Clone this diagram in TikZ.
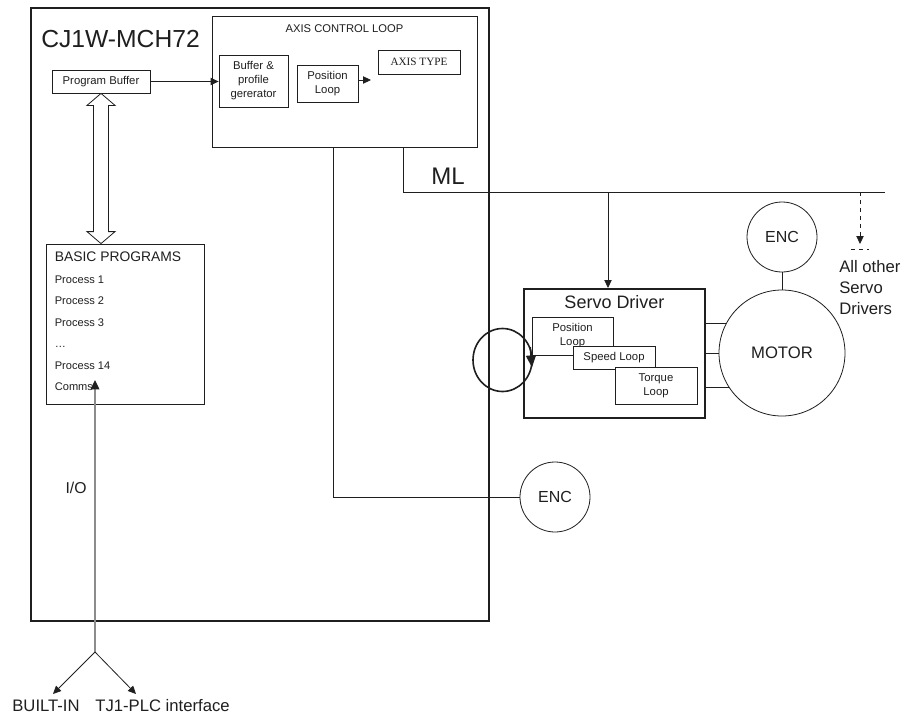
\documentclass[tikz,border=0pt]{standalone}
\usepackage{fontspec}
\setmainfont{Liberation Sans}
\newfontfamily\serifface{Liberation Serif}
\usetikzlibrary{arrows.meta}
\usetikzlibrary{positioning}
\usetikzlibrary{calc}
\usetikzlibrary{shapes.geometric}
\definecolor{ink}{gray}{0.12}
\definecolor{iogray}{gray}{0.55}
\tikzset{
sz/.style 2 args = {minimum width=#1*0.75pt, minimum height=#2*0.75pt},
blk/.style = {draw=ink, fill=white, inner sep=0pt, align=center,
              font=\fontsize{8.5}{10.5}\selectfont, text=ink, line width=0.6pt},
thickblk/.style = {draw=ink, line width=1.5pt, inner sep=0pt},
wheel/.style = {circle, draw=ink, fill=white, inner sep=0pt, line width=0.6pt,
                minimum size=#1*1.5pt, text=ink},
wheel/.default = 35, % radius in px
lbl/.style = {inner sep=0pt, text=ink},
tip/.style = {-{Triangle[length=6pt,width=5.5pt]}},
wire/.style = {draw=ink, line width=0.6pt}
}

\begin{document}
\begin{tikzpicture}[x=0.75pt, y=-0.75pt]
    \useasboundingbox (0,0) rectangle (909,717);

    \node[thickblk, sz={458}{613}] (mch) at (260,314.5) {};
    \node[lbl, font=\fontsize{18.5}{20}\selectfont, below right=17pt and 8.25pt of mch.north west] (mchname) {CJ1W-MCH72};

    \node[blk, sz={265}{131}] (acl) at (344.5,81.5) {};
    \node[lbl, font=\fontsize{8.4}{10}\selectfont, below=6.5pt of acl.north] (acltitle) {AXIS CONTROL LOOP};
    \node[blk, sz={69}{52}] (bpg) at (253.5,81) {Buffer \&\\profile\\gererator};
    \node[blk, sz={61}{37}] (ploop) at (327.5,83.5) {Position\\Loop};
    \node[blk, sz={82}{24}, font=\serifface\fontsize{8.4}{10}\selectfont] (atype) at (419,62) {AXIS TYPE};
    \coordinate (ptip) at (371,80);
    \draw[wire, tip] (ploop.east |- ptip) -- (ptip);

    \node[blk, sz={98}{23}] (pbuf) at (101,81.5) {Program Buffer};
    \draw[wire, tip] (pbuf.east) -- (pbuf.east -| bpg.west);

    \node[blk, sz={158}{160}] (basic) at (125,324) {};
    \node[lbl, font=\fontsize{10.4}{12}\selectfont, anchor=base west] (basictitle) at ($(basic.north west)+(9,18)$) {BASIC PROGRAMS};
    \foreach \t [count=\i] in {Process 1,Process 2,Process 3,…,Process 14,Comms}
        \node[lbl, font=\fontsize{8.3}{10}\selectfont, anchor=base west] (proc\i) at ($(basic.north west)+(9,18.5+21.4*\i)$) {\t};

    \draw[ink, line width=0.6pt, fill=white] (pbuf.south) -- ++(14,12) -- ++(-6.5,0)
        -- ($(pbuf.south |- basic.north)+(7.5,-12)$) -- ++(6.5,0) -- (pbuf.south |- basic.north)
        -- ++(-14,-12) -- ++(6.5,0) -- ($(pbuf.south)+(-7.5,12)$) -- ++(-6.5,0) -- cycle;

    \node[wheel] (enc2) at (555,497) {\fontsize{12}{14}\selectfont ENC};
    \coordinate (encdrop) at (333,147);
    \coordinate (mldrop) at (403,147);
    \coordinate (mlend) at (885,192);
    \draw[wire] (encdrop) |- (enc2.west);
    \draw[wire] (mldrop) |- (mlend);
    \node[lbl, font=\fontsize{18}{20}\selectfont] (mllabel) at (448,176) {ML};

    \node[thickblk, sz={181}{129}] (servo) at (614.5,353.5) {};
    \node[lbl, font=\fontsize{13.5}{15}\selectfont, below=5.5pt of servo.north] (servotitle) {Servo Driver};
    \node[blk, sz={81}{38}] (spos) at (572.5,336) {Position\\Loop};
    \node[blk, sz={82}{23}] (sspeed) at (614,357.5) {Speed Loop};
    \node[blk, sz={82}{37}] (storque) at (656,385.5) {Torque\\Loop};
    \coordinate (mltap) at (608,192);
    \draw[wire, tip] (mltap) -- (mltap |- servo.north);

    \node[draw=ink, line width=1.2pt, ellipse, inner sep=0pt, sz={59}{63}] (fbloop) at (502.5,360) {};
    \draw[ink, line width=1.2pt, -{Triangle[length=9pt,width=7.5pt]}] (fbloop.25) -- (fbloop.-14);

    \node[wheel=63] (motor) at (782,353) {\fontsize{12.5}{14}\selectfont MOTOR};
    \node[wheel] (enc1) at (782,237) {\fontsize{12}{14}\selectfont ENC};
    \draw[wire] (enc1) -- (motor);
    \foreach \a in {152.6,180,213.7}
        \draw[wire] (motor.\a) -- (motor.\a -| servo.east);

    \coordinate (othtap) at (860,192);
    \coordinate (othtip) at (860,244);
    \draw[wire, dashed, tip] (othtap) -- (othtip);
    \draw[wire, dashed] ($(othtip)+(-9,5)$) -- ++(18,0);
    \node[lbl, align=left, anchor=north west, font=\fontsize{12.5}{15.75}\selectfont] (others) at (839,260) {All other\\Servo\\Drivers};

    \coordinate (iofork) at (95,652);
    \coordinate (iotip) at (95,380);
    \draw[iogray, line width=1pt, -{Triangle[length=7pt,width=6.5pt,color=ink]}] (iofork) -- (iotip);
    \node[lbl, font=\fontsize{11.8}{13}\selectfont] (iolabel) at (76,488) {I/O};

    \node[lbl, font=\fontsize{12.5}{14}\selectfont] (builtin) at (46,706) {BUILT-IN};
    \node[lbl, font=\fontsize{12.5}{14}\selectfont] (tjplc) at (162.5,706) {TJ1-PLC interface};
    \coordinate (bitip) at (53,694);
    \coordinate (tjtip) at (136,694);
    \draw[wire, tip] (iofork) -- (bitip);
    \draw[wire, tip] (iofork) -- (tjtip);
\end{tikzpicture}
\end{document}
